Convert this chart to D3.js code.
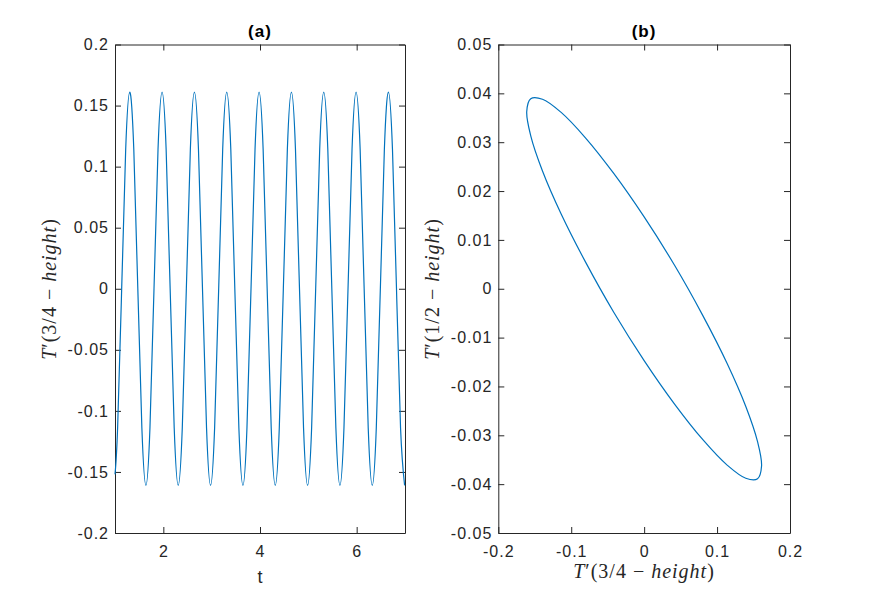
<!DOCTYPE html>
<meta charset="utf-8">
<style>
body { margin: 0; background: #fff; }
.tick text { font: 16px "Liberation Sans", Arial, sans-serif; letter-spacing: 1px; fill: #262626; }
.domain, .tick line { stroke: #262626; }
.ttl { font: bold 17px "Liberation Sans", Arial, sans-serif; letter-spacing: 1px; fill: #000; }
.mlab { font: 20px "Liberation Serif", "DejaVu Serif", serif; letter-spacing: 1px; fill: #262626; }
.slab { font: 18px "Liberation Sans", Arial, sans-serif; fill: #262626; }
</style>
<body>
<script src="https://cdnjs.cloudflare.com/ajax/libs/d3/7.8.5/d3.min.js"></script>
<script>

// panel (a): T'(3/4 - height) against t, every 1/8 period
var tKnots = [1.000,
  1.054, 1.138, 1.221, 1.305, 1.389, 1.472, 1.556, 1.640,
  1.723, 1.807, 1.890, 1.974, 2.058, 2.141, 2.225, 2.308,
  2.392, 2.476, 2.559, 2.643, 2.727, 2.810, 2.894, 2.977,
  3.061, 3.145, 3.228, 3.312, 3.396, 3.479, 3.563, 3.647,
  3.730, 3.814, 3.897, 3.981, 4.065, 4.148, 4.232, 4.316,
  4.399, 4.483, 4.566, 4.650, 4.734, 4.817, 4.901, 4.985,
  5.068, 5.152, 5.235, 5.319, 5.403, 5.486, 5.570, 5.654,
  5.737, 5.821, 5.904, 5.988, 6.072, 6.155, 6.239, 6.323,
  6.406, 6.490, 6.573, 6.657, 6.741, 6.824, 6.908, 6.992];
var t34Vals = [-0.152,
  -0.114, 0, 0.114, 0.161, 0.114, 0, -0.114, -0.161,
  -0.114, 0, 0.114, 0.161, 0.114, 0, -0.114, -0.161,
  -0.114, 0, 0.114, 0.161, 0.114, 0, -0.114, -0.161,
  -0.114, 0, 0.114, 0.161, 0.114, 0, -0.114, -0.161,
  -0.114, 0, 0.114, 0.161, 0.114, 0, -0.114, -0.161,
  -0.114, 0, 0.114, 0.161, 0.114, 0, -0.114, -0.161,
  -0.114, 0, 0.114, 0.161, 0.114, 0, -0.114, -0.161,
  -0.114, 0, 0.114, 0.161, 0.114, 0, -0.114, -0.161,
  -0.114, 0, 0.114, 0.161, 0.114, 0, -0.114, -0.161];

// panel (b): phase portrait, points read around the closed loop
var loopX = [0.161, 0.1555, 0.1394, 0.1138, 0.0805, 0.0417, 0, -0.0417,
  -0.0805, -0.1138, -0.1394, -0.1555, -0.161, -0.1555, -0.1394, -0.1138,
  -0.0805, -0.0417, 0, 0.0417, 0.0805, 0.1138, 0.1394, 0.1555];
var loopY = [-0.0363, -0.0313, -0.0241, -0.0153, -0.0055, 0.0048, 0.0147, 0.0236,
  0.0309, 0.0361, 0.0388, 0.0389, 0.0363, 0.0313, 0.0241, 0.0153,
  0.0055, -0.0048, -0.0147, -0.0236, -0.0309, -0.0361, -0.0388, -0.0389];

var ticksA_x = [2, 4, 6];
var ticksA_y = [-0.2, -0.15, -0.1, -0.05, 0, 0.05, 0.1, 0.15, 0.2];
var ticksB_x = [-0.2, -0.1, 0, 0.1, 0.2];
var ticksB_y = [-0.05, -0.04, -0.03, -0.02, -0.01, 0, 0.01, 0.02, 0.03, 0.04, 0.05];

var width = 872, height = 599;
var lineColor = "#0072BD";

var svg = d3.select("body").append("svg")
    .attr("width", width)
    .attr("height", height);

function fmt(d) { return String(d); }

function panel(box, xDom, yDom, xt, yt) {
  var x = d3.scaleLinear().domain(xDom).range([box.x0, box.x1]);
  var y = d3.scaleLinear().domain(yDom).range([box.y1, box.y0]);
  var tk = 6;

  svg.append("g").attr("transform", "translate(0," + box.y1 + ")")
      .call(d3.axisBottom(x).tickValues(xt).tickFormat(fmt).tickSizeInner(-tk).tickSizeOuter(0).tickPadding(12.5));
  svg.append("g").attr("transform", "translate(0," + box.y0 + ")")
      .call(d3.axisTop(x).tickValues(xt).tickFormat("").tickSizeInner(-tk).tickSizeOuter(0));
  svg.append("g").attr("transform", "translate(" + box.x0 + ",0)")
      .call(d3.axisLeft(y).tickValues(yt).tickFormat(fmt).tickSizeInner(-tk).tickSizeOuter(0).tickPadding(6));
  svg.append("g").attr("transform", "translate(" + box.x1 + ",0)")
      .call(d3.axisRight(y).tickValues(yt).tickFormat("").tickSizeInner(-tk).tickSizeOuter(0));
  return {x: x, y: y};
}

function mathLabel(g, pre) {
  var t = g.append("text").attr("class", "mlab").attr("text-anchor", "middle");
  t.append("tspan").attr("font-style", "italic").text("T");
  t.append("tspan").text("\u2032(" + pre + " \u2212 ");
  t.append("tspan").attr("font-style", "italic").text("height");
  t.append("tspan").text(")");
  return t;
}

// ---- panel (a)
var boxA = {x0: 115, x1: 405, y0: 44.5, y1: 533};
var a = panel(boxA, [1, 7], [-0.2, 0.2], ticksA_x, ticksA_y);

var seriesA = tKnots.map(function(t, i) { return [t, t34Vals[i]]; });
svg.append("path")
    .datum(seriesA)
    .attr("fill", "none")
    .attr("stroke", lineColor)
    .attr("stroke-width", 1.2)
    .attr("d", d3.line()
      .x(function(d) { return a.x(d[0]); })
      .y(function(d) { return a.y(d[1]); })
      .curve(d3.curveNatural));

svg.append("text").attr("class", "ttl").attr("x", 260).attr("y", 37)
    .attr("text-anchor", "middle").text("(a)");
svg.append("text").attr("class", "slab").attr("x", 260).attr("y", 583)
    .attr("text-anchor", "middle").text("t");
mathLabel(svg.append("g").attr("transform", "translate(56,289) rotate(-90)"), "3/4");

// ---- panel (b)
var boxB = {x0: 498.3, x1: 790, y0: 44.5, y1: 533};
var b = panel(boxB, [-0.2, 0.2], [-0.05, 0.05], ticksB_x, ticksB_y);

var loop = loopX.map(function(v, i) { return [v, loopY[i]]; });
svg.append("path")
    .datum(loop)
    .attr("fill", "none")
    .attr("stroke", lineColor)
    .attr("stroke-width", 1.2)
    .attr("d", d3.line()
      .x(function(d) { return b.x(d[0]); })
      .y(function(d) { return b.y(d[1]); })
      .curve(d3.curveCatmullRomClosed));

svg.append("text").attr("class", "ttl").attr("x", 644).attr("y", 37)
    .attr("text-anchor", "middle").text("(b)");
mathLabel(svg.append("g").attr("transform", "translate(644,578)"), "3/4");
mathLabel(svg.append("g").attr("transform", "translate(439,289) rotate(-90)"), "1/2");

</script>
